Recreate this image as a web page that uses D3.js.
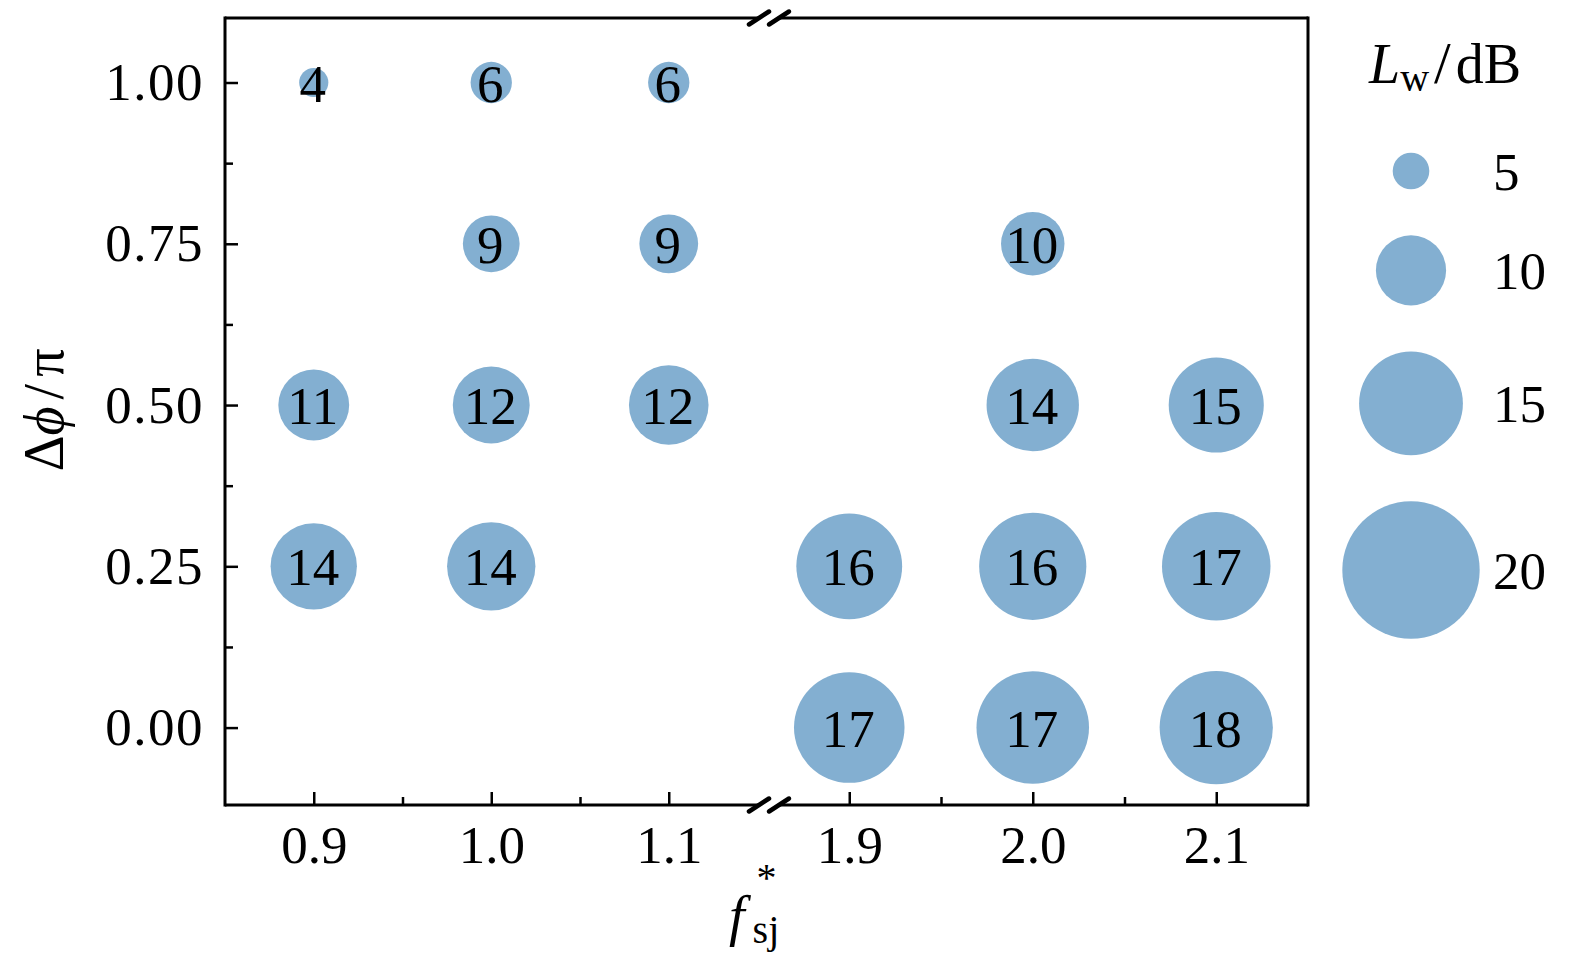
<!DOCTYPE html>
<html>
<head>
<meta charset="utf-8">
<script src="https://cdn.jsdelivr.net/npm/d3@7"></script>
<style>
  html, body { margin: 0; padding: 0; background: #fff; }
  svg { display: block; }
  text { font-family: "Liberation Serif", "DejaVu Serif", serif; fill: #000; }
</style>
</head>
<body>
<svg id="chart" width="1575" height="965"></svg>
<script>
// ---- data ----
const majorLeft = [0.9, 1.0, 1.1];
const majorRight = [1.9, 2.0, 2.1];
const minorLeft = [0.95, 1.05];
const minorRight = [1.95, 2.05];
const yMajor = [0, 0.25, 0.5, 0.75, 1.0];
const yMinor = [0.125, 0.375, 0.625, 0.875];
const pointF   = [0.9, 1.0, 1.1, 1.0, 1.1, 2.0, 0.9, 1.0, 1.1, 2.0, 2.1, 0.9, 1.0, 1.9, 2.0, 2.1, 1.9, 2.0, 2.1];
const pointPhi = [1, 1, 1, 0.75, 0.75, 0.75, 0.5, 0.5, 0.5, 0.5, 0.5, 0.25, 0.25, 0.25, 0.25, 0.25, 0, 0, 0];
const labelLw  = [4, 6, 6, 9, 9, 10, 11, 12, 12, 14, 15, 14, 14, 16, 16, 17, 17, 17, 18];
const sizeLw   = [3.9, 5.7, 5.7, 8.0, 8.3, 9.0, 10.1, 11.0, 11.4, 13.3, 13.7, 12.4, 12.7, 15.3, 15.5, 15.7, 16.0, 16.3, 16.4];
const legendLw = [5, 10, 15, 20];

// ---- layout ----
const L = 225, R = 1308, T = 18, B = 805;
const breakX = 769;
const fill = "#83afd1";
const FS = 53;

const svg = d3.select("#chart");
const xLeft = d3.scaleLinear().domain([0.85, 1.15]).range([L, 757.5]);
const xRight = d3.scaleLinear().domain([1.85, 2.15]).range([757.5, R]);
const xs = v => (v < 1.5 ? xLeft(v) : xRight(v));
const y = d3.scaleLinear().domain([-0.12, 1.1]).range([B, T]);
const r = d3.scaleLinear().domain([5, 20]).range([18.3, 68.7]);

const points = pointF.map((f, i) => ({ f, phi: pointPhi[i], label: labelLw[i], size: sizeLw[i] }));

// bubbles
svg.append("g").selectAll("circle").data(points).join("circle")
  .attr("cx", d => xs(d.f)).attr("cy", d => y(d.phi)).attr("r", d => r(d.size))
  .attr("fill", fill);
svg.append("g").selectAll("text").data(points).join("text")
  .attr("x", d => xs(d.f) - 1).attr("y", d => y(d.phi)).attr("dy", "0.36em")
  .attr("text-anchor", "middle").attr("font-size", FS).text(d => d.label);

// axes
function styleAxis(g) {
  g.select(".domain").remove();
  g.selectAll(".tick line").attr("stroke", "#000").attr("stroke-width", 2.5);
  g.selectAll(".tick text").attr("font-size", FS).attr("font-family", '"Liberation Serif", serif');
}
[[xLeft, majorLeft, minorLeft], [xRight, majorRight, minorRight]].forEach(([sc, maj, mn]) => {
  svg.append("g").attr("transform", `translate(0,${B})`)
    .call(d3.axisBottom(sc).tickValues(maj).tickSize(-13).tickPadding(20).tickFormat(d3.format(".1f")))
    .call(styleAxis);
  svg.append("g").attr("transform", `translate(0,${B})`)
    .call(d3.axisBottom(sc).tickValues(mn).tickSize(-8).tickFormat(""))
    .call(styleAxis);
});
const yAx = svg.append("g").attr("transform", `translate(${L},0)`)
  .call(d3.axisLeft(y).tickValues(yMajor).tickSize(-13).tickPadding(21).tickFormat(d3.format(".2f")))
  .call(styleAxis);
yAx.selectAll(".tick text").attr("letter-spacing", 1.5);
svg.append("g").attr("transform", `translate(${L},0)`)
  .call(d3.axisLeft(y).tickValues(yMinor).tickSize(-8).tickFormat(""))
  .call(styleAxis);

// frame with break
const frame = svg.append("g").attr("stroke", "#000").attr("stroke-width", 3).attr("fill", "none");
const s1 = breakX - 10, s2 = breakX + 10;
frame.append("line").attr("x1", L).attr("y1", T - 1.5).attr("x2", L).attr("y2", B + 1.5);
frame.append("line").attr("x1", R).attr("y1", T - 1.5).attr("x2", R).attr("y2", B + 1.5);
[T, B].forEach(yy => {
  frame.append("line").attr("x1", L).attr("y1", yy).attr("x2", s1).attr("y2", yy);
  frame.append("line").attr("x1", s2).attr("y1", yy).attr("x2", R).attr("y2", yy);
  [s1, s2].forEach(sx => {
    frame.append("line").attr("x1", sx - 10).attr("y1", yy + 6.5).attr("x2", sx + 10).attr("y2", yy - 6.5)
      .attr("stroke-width", 4.5).attr("stroke-linecap", "round");
  });
});

// axis titles
const xt = svg.append("text").attr("x", 729).attr("y", 935).attr("font-size", 56);
xt.append("tspan").attr("font-style", "italic").text("f");
xt.append("tspan").attr("font-size", 40).attr("dy", -44).attr("dx", 12).text("*");
xt.append("tspan").attr("font-size", 40).attr("dy", 52).attr("dx", -24).text("sj");

const yt = svg.append("text").attr("transform", "translate(63,410) rotate(-90)")
  .attr("text-anchor", "middle").attr("font-size", 56);
yt.append("tspan").text("Δ");
yt.append("tspan").attr("font-style", "italic").text("ϕ");
yt.append("tspan").attr("dx", 7).text("/");
yt.append("tspan").attr("dx", 7).text("π");

// legend
const lt = svg.append("text").attr("x", 1369).attr("y", 83).attr("font-size", 56);
lt.append("tspan").attr("font-style", "italic").text("L");
lt.append("tspan").attr("font-size", 40).attr("dy", 8).text("w");
lt.append("tspan").attr("dy", -8).attr("dx", 5).attr("font-size", 60).text("/");
lt.append("tspan").attr("dx", 5).text("dB");

const legCx = 1411, gap = 46;
let cur = 171 - r(legendLw[0]);
const legPos = legendLw.map(v => { const c = cur + r(v); cur = c + r(v) + gap; return { v, c }; });
const lg = svg.append("g");
lg.selectAll("circle").data(legPos).join("circle")
  .attr("cx", legCx).attr("cy", d => d.c).attr("r", d => r(d.v)).attr("fill", fill);
lg.selectAll("text").data(legPos).join("text")
  .attr("x", 1493).attr("y", d => d.c).attr("dy", "0.35em").attr("font-size", FS).text(d => d.v);
</script>
</body>
</html>
